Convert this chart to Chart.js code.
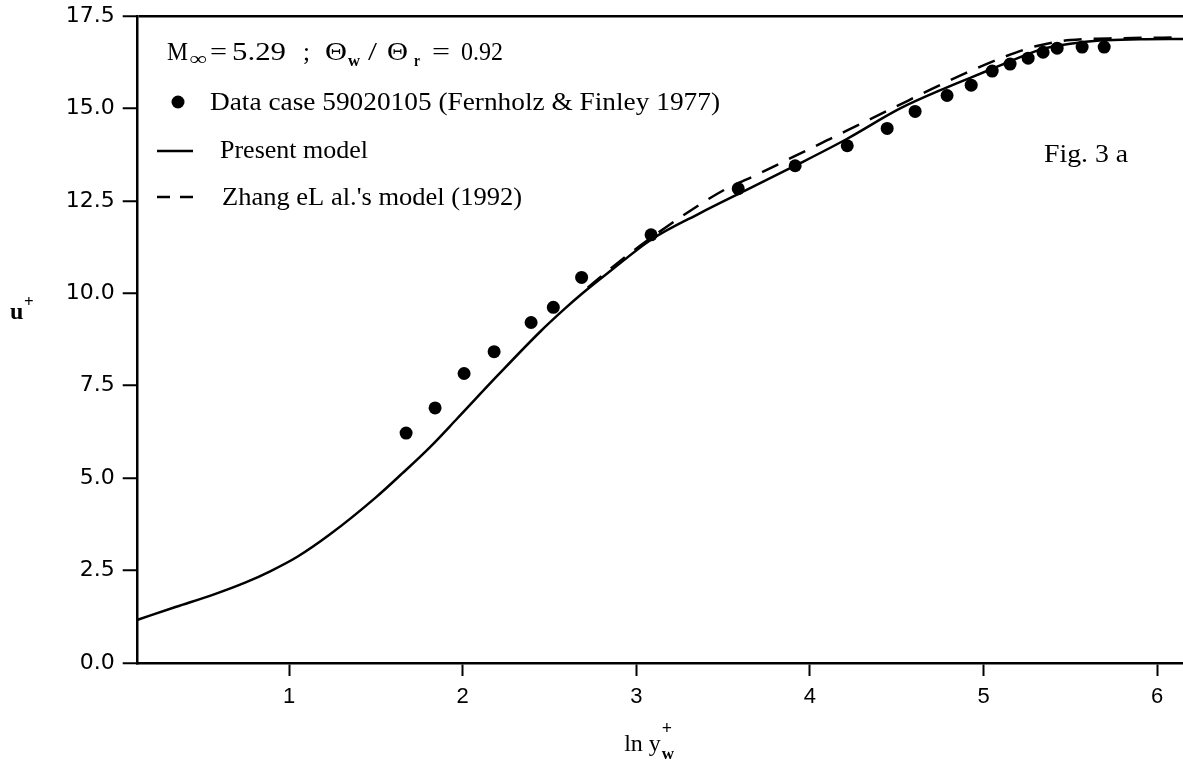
<!DOCTYPE html>
<html><head><meta charset="utf-8">
<script src="https://cdn.jsdelivr.net/npm/chart.js@4.4.1/dist/chart.umd.min.js"></script>
<style>html,body{margin:0;padding:0;background:#fff}#wrap{width:1183px;height:764px;position:relative}</style>
</head><body><div id="wrap"><canvas id="c" width="1183" height="764"></canvas></div>
<script>
// ---- data ----
const dataX = [1.674,1.841,2.008,2.181,2.394,2.522,2.685,3.085,3.587,3.915,4.215,4.445,4.606,4.790,4.929,5.050,5.153,5.257,5.343,5.424,5.568,5.695];
const dataU = [6.22,6.90,7.83,8.42,9.21,9.62,10.43,11.58,12.83,13.45,13.99,14.46,14.92,15.35,15.63,16.01,16.20,16.36,16.52,16.63,16.66,16.66];

const modelX = [0.128,0.35,0.564,0.75,0.891,1.05,1.236,1.5,1.65,1.812,1.966,2.2,2.446,2.59,2.685,2.85,3.085,3.368,3.65,3.915,4.215,4.52,4.79,4.93,5.1,5.255,5.34,5.5,5.67,5.9,6.149];
const modelU = [1.17,1.52,1.85,2.18,2.48,2.88,3.48,4.48,5.12,5.84,6.6,7.77,8.96,9.59,9.98,10.6,11.45,12.17,12.83,13.45,14.18,15.0,15.57,15.84,16.17,16.47,16.61,16.75,16.84,16.87,16.88];

const zhangX = [2.72,2.9,3.1,3.3,3.5,3.7,3.9,4.1,4.3,4.5,4.7,4.9,5.1,5.3,5.5,5.8,6.149];
const zhangU = [10.15,10.85,11.55,12.2,12.78,13.22,13.68,14.14,14.6,15.06,15.52,15.96,16.36,16.68,16.85,16.9,16.92];

const xTicks = [1,2,3,4,5,6];
const yTicks = [0,2.5,5,7.5,10,12.5,15,17.5];

const labelData = 'Data case 59020105 (Fernholz & Finley 1977)';
const labelModel = 'Present model';
const labelZhang = "Zhang eL al.'s model (1992)";
const figLabel = 'Fig. 3 a';

const pts = (xs, ys) => xs.map((x, i) => ({x, y: ys[i]}));
const SERIF = '"Liberation Serif", "Times New Roman", serif';

function fitText(ctx, text, x, y, size, width, weight) {
  ctx.font = (weight ? weight + ' ' : '') + size + 'px ' + SERIF;
  const m = ctx.measureText(text).width;
  ctx.save();
  ctx.translate(x, y);
  ctx.scale(width / m, 1);
  ctx.fillText(text, 0, 0);
  ctx.restore();
}

const textPlugin = {
  id: 'texts',
  afterDraw(chart) {
    const ctx = chart.ctx;
    const ys = chart.scales.y, xs = chart.scales.x;
    ctx.save();
    ctx.fillStyle = '#000';
    ctx.strokeStyle = '#000';
    ctx.textBaseline = 'alphabetic';
    ctx.textAlign = 'left';
    // legend title: M∞ = 5.29 ; Θw / Θr = 0.92
    const tb = 60;
    fitText(ctx, 'M', 167, tb, 26, 21);
    fitText(ctx, '\u221E', 190, tb + 5, 19, 17, 'bold');
    fitText(ctx, '=', 210, tb, 26, 17);
    fitText(ctx, '5.29', 232, tb, 26, 54);
    fitText(ctx, ';', 303, tb, 26, 7);
    fitText(ctx, '\u0398', 325, tb, 26, 22);
    fitText(ctx, 'w', 348, tb + 6, 17, 12, 'bold');
    fitText(ctx, '/', 368, tb, 26, 9);
    fitText(ctx, '\u0398', 387, tb, 26, 21);
    fitText(ctx, 'r', 414, tb + 6, 17, 6, 'bold');
    fitText(ctx, '=', 432, tb, 26, 18);
    fitText(ctx, '0.92', 461, tb, 26, 42);
    // legend row 1: data marker
    ctx.beginPath(); ctx.arc(178, 102, 6.5, 0, Math.PI * 2); ctx.fill();
    fitText(ctx, labelData, 210, 110, 26, 510);
    // row 2: solid line
    ctx.lineWidth = 2.5;
    ctx.beginPath(); ctx.moveTo(157, 151); ctx.lineTo(193, 151); ctx.stroke();
    fitText(ctx, labelModel, 220, 158, 26, 148);
    // row 3: dashed line
    ctx.setLineDash([13, 10]);
    ctx.beginPath(); ctx.moveTo(157, 197); ctx.lineTo(193, 197); ctx.stroke();
    ctx.setLineDash([]);
    fitText(ctx, labelZhang, 222, 205, 26, 300);
    // fig label
    fitText(ctx, figLabel, 1044, ys.getPixelForValue(13.8) + 9, 26, 84);
    // x axis title: ln y (+ over w)
    const bx = xs.getPixelForValue(2.93), by = 751;
    ctx.font = '24px ' + SERIF; ctx.fillText('ln y', bx, by);
    const wx = bx + ctx.measureText('ln y').width + 1;
    ctx.font = 'bold 18px ' + SERIF; ctx.fillText('+', wx, by - 17);
    ctx.font = 'bold 17px ' + SERIF; ctx.fillText('w', wx, by + 8);
    // y axis title: u+
    const uy = ys.getPixelForValue(9.5) + 7;
    ctx.font = 'bold 24px ' + SERIF; ctx.fillText('u', 10, uy);
    ctx.font = 'bold 17px ' + SERIF; ctx.fillText('+', 24, uy - 12);
    ctx.restore();
  }
};

new Chart(document.getElementById('c'), {
  type: 'scatter',
  data: {
    datasets: [
      { label: labelData, data: pts(dataX, dataU), showLine: false, pointRadius: 6.5, pointHoverRadius: 6.5,
        backgroundColor: '#000', borderColor: '#000', borderWidth: 0, order: 0 },
      { label: labelModel, data: pts(modelX, modelU), showLine: true, pointRadius: 0, borderColor: '#000',
        borderWidth: 2.5, cubicInterpolationMode: 'monotone', fill: false, order: 1 },
      { label: labelZhang, data: pts(zhangX, zhangU), showLine: true, pointRadius: 0, borderColor: '#000',
        borderWidth: 2.5, borderDash: [18, 12], cubicInterpolationMode: 'monotone', fill: false, order: 2 }
    ]
  },
  options: {
    responsive: false,
    animation: false,
    devicePixelRatio: 1,
    layout: { autoPadding: false, padding: { left: 0, right: 0, top: 16, bottom: 0 } },
    plugins: { legend: { display: false }, tooltip: { enabled: false } },
    scales: {
      x: {
        type: 'linear', min: 0.128, max: 6.149,
        afterBuildTicks: s => { s.ticks = xTicks.map(v => ({ value: v })); },
        afterFit: s => { s.height = 101; s.paddingLeft = 0; s.paddingRight = 0; },
        border: { color: '#000', width: 2.5 },
        grid: { drawOnChartArea: false, tickLength: 13, tickColor: '#000', tickWidth: 2 },
        ticks: { color: '#000', padding: 8, maxRotation: 0, font: { family: '"Liberation Sans Narrow", "Liberation Sans", Arial, sans-serif', size: 22 } }
      },
      y: {
        type: 'linear', min: 0, max: 17.5,
        afterBuildTicks: s => { s.ticks = yTicks.map(v => ({ value: v })); },
        afterFit: s => { s.width = 137.7; s.paddingTop = 0; s.paddingBottom = 0; },
        border: { color: '#000', width: 2.5 },
        grid: { color: c => (c.tick && c.tick.value === 17.5) ? '#000' : 'rgba(0,0,0,0)', lineWidth: 2.5,
                tickLength: 15, tickColor: '#000', tickWidth: 2 },
        ticks: { color: '#000', padding: 8, callback: v => Number(v).toFixed(1),
                 font: { family: '"DejaVu Sans", Verdana, sans-serif', size: 22 } }
      }
    }
  },
  plugins: [textPlugin]
});
</script>
</body></html>
